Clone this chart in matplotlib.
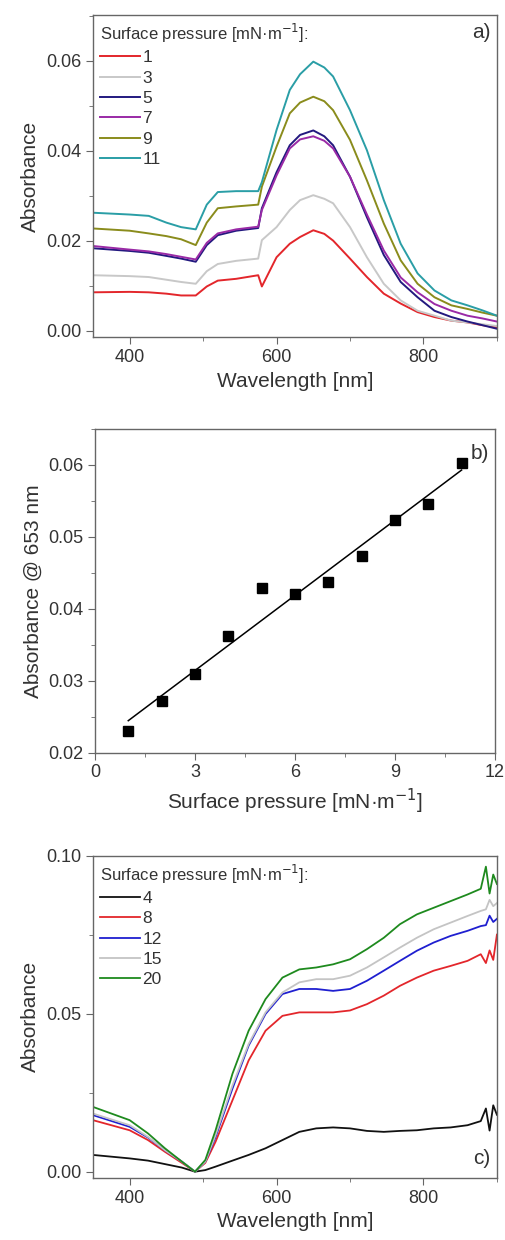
import numpy as np
import matplotlib.pyplot as plt
from matplotlib.ticker import MultipleLocator

plt.rcParams['font.family'] = ['Liberation Sans', 'DejaVu Sans']

# ---- panel a: spectra vs surface pressure ----
wl_a = [350, 400, 426, 450, 470, 490, 505, 520, 545, 575, 580, 600, 618, 632,
        650, 665, 677, 700, 723, 746, 769, 792, 815, 838, 860, 880, 900]
abs_1 = [.0085, .0086, .0085, .0082, .0078, .0078, .0098, .0111, .0115, .0123, .0098, .0163, .0193, .0208,
         .0223, .0215, .0200, .0160, .0119, .0082, .0060, .0041, .0030, .0022, .0018, .0012, .0007]
abs_3 = [.0123, .0121, .0119, .0113, .0108, .0104, .0132, .0148, .0155, .0160, .0201, .0230, .0268, .0290,
         .0301, .0293, .0283, .0230, .0163, .0104, .0067, .0044, .0033, .0022, .0018, .0014, .0010]
abs_5 = [.0183, .0177, .0173, .0166, .0160, .0153, .0190, .0212, .0222, .0228, .0272, .0352, .0412, .0435,
         .0445, .0432, .0412, .0342, .0252, .0168, .0108, .0074, .0044, .0030, .0020, .0012, .0004]
abs_7 = [.0188, .0180, .0176, .0170, .0164, .0158, .0195, .0216, .0225, .0231, .0268, .0345, .0405, .0425,
         .0432, .0422, .0405, .0342, .0258, .0178, .0118, .0085, .0059, .0044, .0033, .0027, .0020]
abs_9 = [.0227, .0222, .0216, .0210, .0203, .0190, .0240, .0272, .0276, .0280, .0320, .0409, .0483, .0507,
         .0520, .0510, .0490, .0424, .0334, .0238, .0156, .0104, .0074, .0056, .0048, .0040, .0033]
abs_11 = [.0262, .0258, .0255, .0240, .0230, .0225, .0280, .0308, .0310, .0310, .0330, .0446, .0535, .0570,
          .0598, .0585, .0565, .0490, .0401, .0290, .0193, .0127, .0089, .0067, .0056, .0045, .0033]
labels_a = ['1', '3', '5', '7', '9', '11']
colors_a = ['#e3262b', '#c8c8c8', '#23197f', '#9a2aa6', '#8a8c1c', '#2a9ea6']

# ---- panel b: absorbance at 653 nm ----
pressure_b = [1, 2, 3, 4, 5, 6, 7, 8, 9, 10, 11]
abs_653 = [0.0230, 0.0272, 0.0310, 0.0362, 0.0429, 0.0420, 0.0437, 0.0473, 0.0524, 0.0546, 0.0603]

# ---- panel c: spectra at higher pressures ----
wl_c = [350, 400, 425, 448, 471, 489, 503, 517, 540, 562, 585, 608, 631, 654, 677,
        700, 723, 746, 768, 791, 814, 837, 860, 878, 885, 890, 895, 900]
abs_c4 = [.0053, .0042, .0035, .0024, .0013, .0000, .0005, .0016, .0035, .0053, .0074, .0100, .0126, .0137, .0140,
          .0137, .0129, .0126, .0129, .0131, .0137, .0140, .0147, .0160, .0200, .0130, .0210, .0180]
abs_c8 = [.0163, .0131, .0100, .0063, .0028, .0000, .0028, .0095, .0226, .0352, .0446, .0493, .0504, .0504, .0504,
          .0510, .0530, .0557, .0588, .0614, .0636, .0651, .0667, .0688, .0660, .0700, .0670, .0750]
abs_c12 = [.0179, .0142, .0108, .0068, .0032, .0000, .0032, .0110, .0263, .0399, .0499, .0562, .0578, .0578, .0572,
           .0578, .0604, .0636, .0667, .0699, .0725, .0746, .0762, .0777, .0780, .0810, .0790, .0800]
abs_c15 = [.0184, .0147, .0110, .0068, .0032, .0000, .0032, .0116, .0273, .0404, .0504, .0567, .0599, .0609, .0609,
           .0620, .0646, .0678, .0709, .0740, .0767, .0788, .0809, .0825, .0830, .0860, .0840, .0850]
abs_c20 = [.0205, .0163, .0121, .0074, .0032, .0000, .0037, .0131, .0310, .0446, .0546, .0614, .0640, .0646, .0656,
           .0672, .0704, .0740, .0783, .0814, .0835, .0856, .0877, .0895, .0965, .0880, .0940, .0910]
labels_c = ['4', '8', '12', '15', '20']
colors_c = ['#111111', '#e3262b', '#1f1fd0', '#c4c4c4', '#1e8a1e']

spine_col = '#666666'
txt_col = '#333333'
leg_title = 'Surface pressure [mN·m$^{-1}$]:'


def style_axes(ax):
    for sp in ax.spines.values():
        sp.set_color(spine_col)
        sp.set_linewidth(1.0)
    ax.tick_params(which='both', direction='out', colors=spine_col, labelcolor=txt_col,
                   top=False, right=False)
    ax.tick_params(which='major', length=5, labelsize=13)
    ax.tick_params(which='minor', length=3)


def add_legend(ax):
    leg = ax.legend(title=leg_title, loc='upper left', frameon=False, fontsize=12.5,
                    title_fontsize=12, handlelength=2.3, handletextpad=0.15,
                    labelspacing=0.3, borderaxespad=0.2, borderpad=0.2)
    leg._legend_box.align = 'left'
    leg.get_title().set_color(txt_col)
    for t in leg.get_texts():
        t.set_color(txt_col)


fig = plt.figure(figsize=(5.05, 12.4), dpi=100)

# panel a
ax1 = fig.add_axes([0.184, 0.728, 0.800, 0.260])
for ys, lab, c in zip([abs_1, abs_3, abs_5, abs_7, abs_9, abs_11], labels_a, colors_a):
    ax1.plot(wl_a, ys, color=c, lw=1.4, label=lab)
ax1.set_xlim(350, 900)
ax1.set_ylim(-0.0015, 0.0702)
ax1.xaxis.set_major_locator(MultipleLocator(200))
ax1.xaxis.set_minor_locator(MultipleLocator(100))
ax1.yaxis.set_major_locator(MultipleLocator(0.02))
ax1.yaxis.set_minor_locator(MultipleLocator(0.01))
ax1.yaxis.set_major_formatter(lambda v, p: f'{v:.2f}')
ax1.set_xlabel('Wavelength [nm]', fontsize=15, color=txt_col)
ax1.set_ylabel('Absorbance', fontsize=15, color=txt_col)
style_axes(ax1)
add_legend(ax1)
ax1.text(0.985, 0.975, 'a)', transform=ax1.transAxes, ha='right', va='top', fontsize=15, color=txt_col)

# panel b
ax2 = fig.add_axes([0.188, 0.393, 0.792, 0.261])
ax2.plot(pressure_b, abs_653, 's', color='black', ms=7)
coef = np.polyfit(pressure_b, abs_653, 1)
xfit = np.array([pressure_b[0], pressure_b[-1]])
ax2.plot(xfit, np.polyval(coef, xfit), color='black', lw=1.1)
ax2.set_xlim(0, 12)
ax2.set_ylim(0.02, 0.065)
ax2.xaxis.set_major_locator(MultipleLocator(3))
ax2.xaxis.set_minor_locator(MultipleLocator(1.5))
ax2.yaxis.set_major_locator(MultipleLocator(0.01))
ax2.yaxis.set_minor_locator(MultipleLocator(0.005))
ax2.yaxis.set_major_formatter(lambda v, p: f'{v:.2f}')
ax2.set_xlabel('Surface pressure [mN·m$^{-1}$]', fontsize=15, color=txt_col)
ax2.set_ylabel('Absorbance @ 653 nm', fontsize=15, color=txt_col)
style_axes(ax2)
ax2.text(0.985, 0.955, 'b)', transform=ax2.transAxes, ha='right', va='top', fontsize=15, color=txt_col)

# panel c
ax3 = fig.add_axes([0.184, 0.050, 0.800, 0.260])
for ys, lab, c in zip([abs_c4, abs_c8, abs_c12, abs_c15, abs_c20], labels_c, colors_c):
    ax3.plot(wl_c, ys, color=c, lw=1.3, label=lab)
ax3.set_xlim(350, 900)
ax3.set_ylim(-0.002, 0.100)
ax3.xaxis.set_major_locator(MultipleLocator(200))
ax3.xaxis.set_minor_locator(MultipleLocator(100))
ax3.yaxis.set_major_locator(MultipleLocator(0.05))
ax3.yaxis.set_minor_locator(MultipleLocator(0.025))
ax3.yaxis.set_major_formatter(lambda v, p: f'{v:.2f}')
ax3.set_xlabel('Wavelength [nm]', fontsize=15, color=txt_col)
ax3.set_ylabel('Absorbance', fontsize=15, color=txt_col)
style_axes(ax3)
add_legend(ax3)
ax3.text(0.985, 0.03, 'c)', transform=ax3.transAxes, ha='right', va='bottom', fontsize=15, color=txt_col)

fig.savefig('out.png', dpi=100)
